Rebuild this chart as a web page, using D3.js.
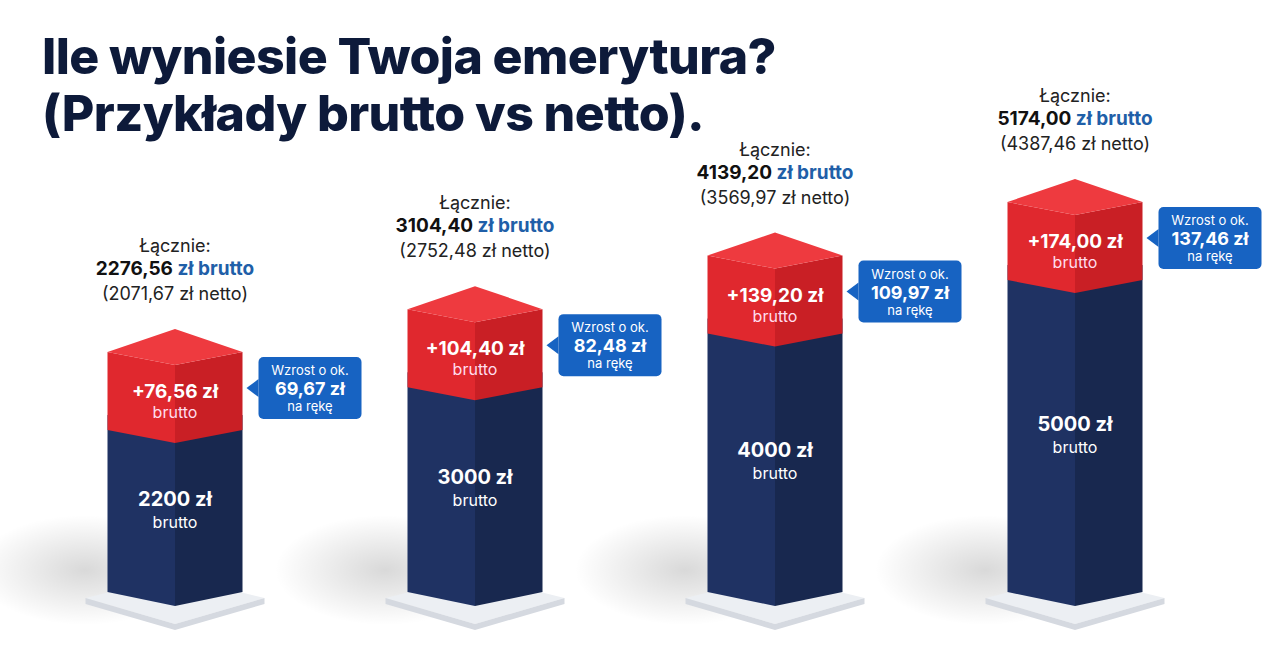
<!DOCTYPE html>
<html><head><meta charset="utf-8">
<script src="https://cdn.jsdelivr.net/npm/d3@7"></script>
<style>body{margin:0;background:#fff;}svg{display:block;font-family:Inter,"Noto Sans",sans-serif;}</style>
</head><body><svg id="c" width="1280" height="657"></svg>
<script>
const base = [2200, 3000, 4000, 5000];
const increase = [76.56, 104.40, 139.20, 174.00];
const totalGross = ["2276,56", "3104,40", "4139,20", "5174,00"];
const totalNet = ["2071,67", "2752,48", "3569,97", "4387,46"];
const netIncrease = ["69,67", "82,48", "109,97", "137,46"];
const baseLabels = ["2200 zł", "3000 zł", "4000 zł", "5000 zł"];
const incLabels = ["+76,56 zł", "+104,40 zł", "+139,20 zł", "+174,00 zł"];

const svg = d3.select("#c");
const defs = svg.append("defs");
const sh = defs.append("radialGradient").attr("id","shadow");
sh.append("stop").attr("offset","0%").attr("stop-color","#000").attr("stop-opacity",0.15);
sh.append("stop").attr("offset","100%").attr("stop-color","#000").attr("stop-opacity",0);

svg.append("text").attr("x",42).attr("y",74).attr("font-size",50).attr("font-weight",800).attr("fill","#0d1a3a").attr("letter-spacing",-0.6).text("Ile wyniesie Twoja emerytura?");
svg.append("text").attr("x",42).attr("y",131).attr("font-size",50).attr("font-weight",800).attr("fill","#0d1a3a").attr("letter-spacing",-0.6).text("(Przykłady brutto vs netto).");

const x = d3.scalePoint().domain(d3.range(4)).range([175,1075]);
const yTop = d3.scaleLinear().domain([2200,5000]).range([415,265]);
const baseY = 600, w = 135, hw = w/2, dep = 13, cubeH = 78;

base.forEach((v,i)=>{
  const cx = x(i), g = svg.append("g");
  const top = yTop(v);
  g.append("ellipse").attr("cx",cx-90).attr("cy",baseY-30).attr("rx",110).attr("ry",55).attr("fill","url(#shadow)");
  g.append("path").attr("d",`M${cx-hw-22},${baseY-2} L${cx},${baseY-24} L${cx+hw+22},${baseY-2} L${cx},${baseY+24} Z`).attr("fill","#eceff3");
  g.append("path").attr("d",`M${cx-hw-22},${baseY-2} L${cx},${baseY+24} L${cx+hw+22},${baseY-2} L${cx+hw+22},${baseY+4} L${cx},${baseY+30} L${cx-hw-22},${baseY+4} Z`).attr("fill","#d5d9e0");
  g.append("path").attr("d",`M${cx-hw},${top} L${cx},${top+dep} L${cx},${baseY+6} L${cx-hw},${baseY-8} Z`).attr("fill","#1f3263");
  g.append("path").attr("d",`M${cx},${top+dep} L${cx+hw},${top} L${cx+hw},${baseY-8} L${cx},${baseY+6} Z`).attr("fill","#18284f");
  const rb = top + 15, rt = rb - cubeH;
  g.append("path").attr("d",`M${cx-hw},${rt} L${cx},${rt+dep} L${cx},${rb+dep} L${cx-hw},${rb} Z`).attr("fill","#e0282e");
  g.append("path").attr("d",`M${cx},${rt+dep} L${cx+hw},${rt} L${cx+hw},${rb} L${cx},${rb+dep} Z`).attr("fill","#c91f25");
  g.append("path").attr("d",`M${cx-hw},${rt} L${cx},${rt-dep-10} L${cx+hw},${rt} L${cx},${rt+dep} Z`).attr("fill","#ee3a3f");
  const mid = (top + baseY)/2 - 2;
  g.append("text").attr("x",cx).attr("y",mid).attr("text-anchor","middle").attr("font-size",20).attr("font-weight",700).attr("fill","#fff").text(baseLabels[i]);
  g.append("text").attr("x",cx).attr("y",mid+22).attr("text-anchor","middle").attr("font-size",16).attr("fill","#fff").text("brutto");
  g.append("text").attr("x",cx).attr("y",rt+46).attr("text-anchor","middle").attr("font-size",19).attr("font-weight",700).attr("fill","#fff").text(incLabels[i]);
  g.append("text").attr("x",cx).attr("y",rt+66).attr("text-anchor","middle").attr("font-size",16).attr("fill","#fde").text("brutto");
  const bx = cx+hw+16, by = rt+5, bw = 103, bh = 62;
  g.append("path").attr("d",`M${bx},${by+22} L${bx-12},${by+31} L${bx},${by+40} Z`).attr("fill","#1763c2");
  g.append("rect").attr("x",bx).attr("y",by).attr("width",bw).attr("height",bh).attr("rx",5).attr("fill","#1763c2");
  g.append("text").attr("x",bx+bw/2).attr("y",by+18).attr("text-anchor","middle").attr("font-size",13).attr("fill","#fff").text("Wzrost o ok.");
  g.append("text").attr("x",bx+bw/2).attr("y",by+38).attr("text-anchor","middle").attr("font-size",18).attr("font-weight",700).attr("fill","#fff").text(netIncrease[i]+" zł");
  g.append("text").attr("x",bx+bw/2).attr("y",by+54).attr("text-anchor","middle").attr("font-size",13).attr("fill","#fff").text("na rękę");
  const ty = rt - 77;
  g.append("text").attr("x",cx).attr("y",ty-23).attr("text-anchor","middle").attr("font-size",18).attr("fill","#222").text("Łącznie:");
  const t2 = g.append("text").attr("x",cx).attr("y",ty).attr("text-anchor","middle").attr("font-size",19).attr("font-weight",700);
  t2.append("tspan").attr("fill","#111").text(totalGross[i]+" ");
  t2.append("tspan").attr("fill","#1f5fa8").text("zł brutto");
  g.append("text").attr("x",cx).attr("y",ty+25).attr("text-anchor","middle").attr("font-size",18).attr("fill","#222").text(`(${totalNet[i]} zł netto)`);
});
</script></body></html>
